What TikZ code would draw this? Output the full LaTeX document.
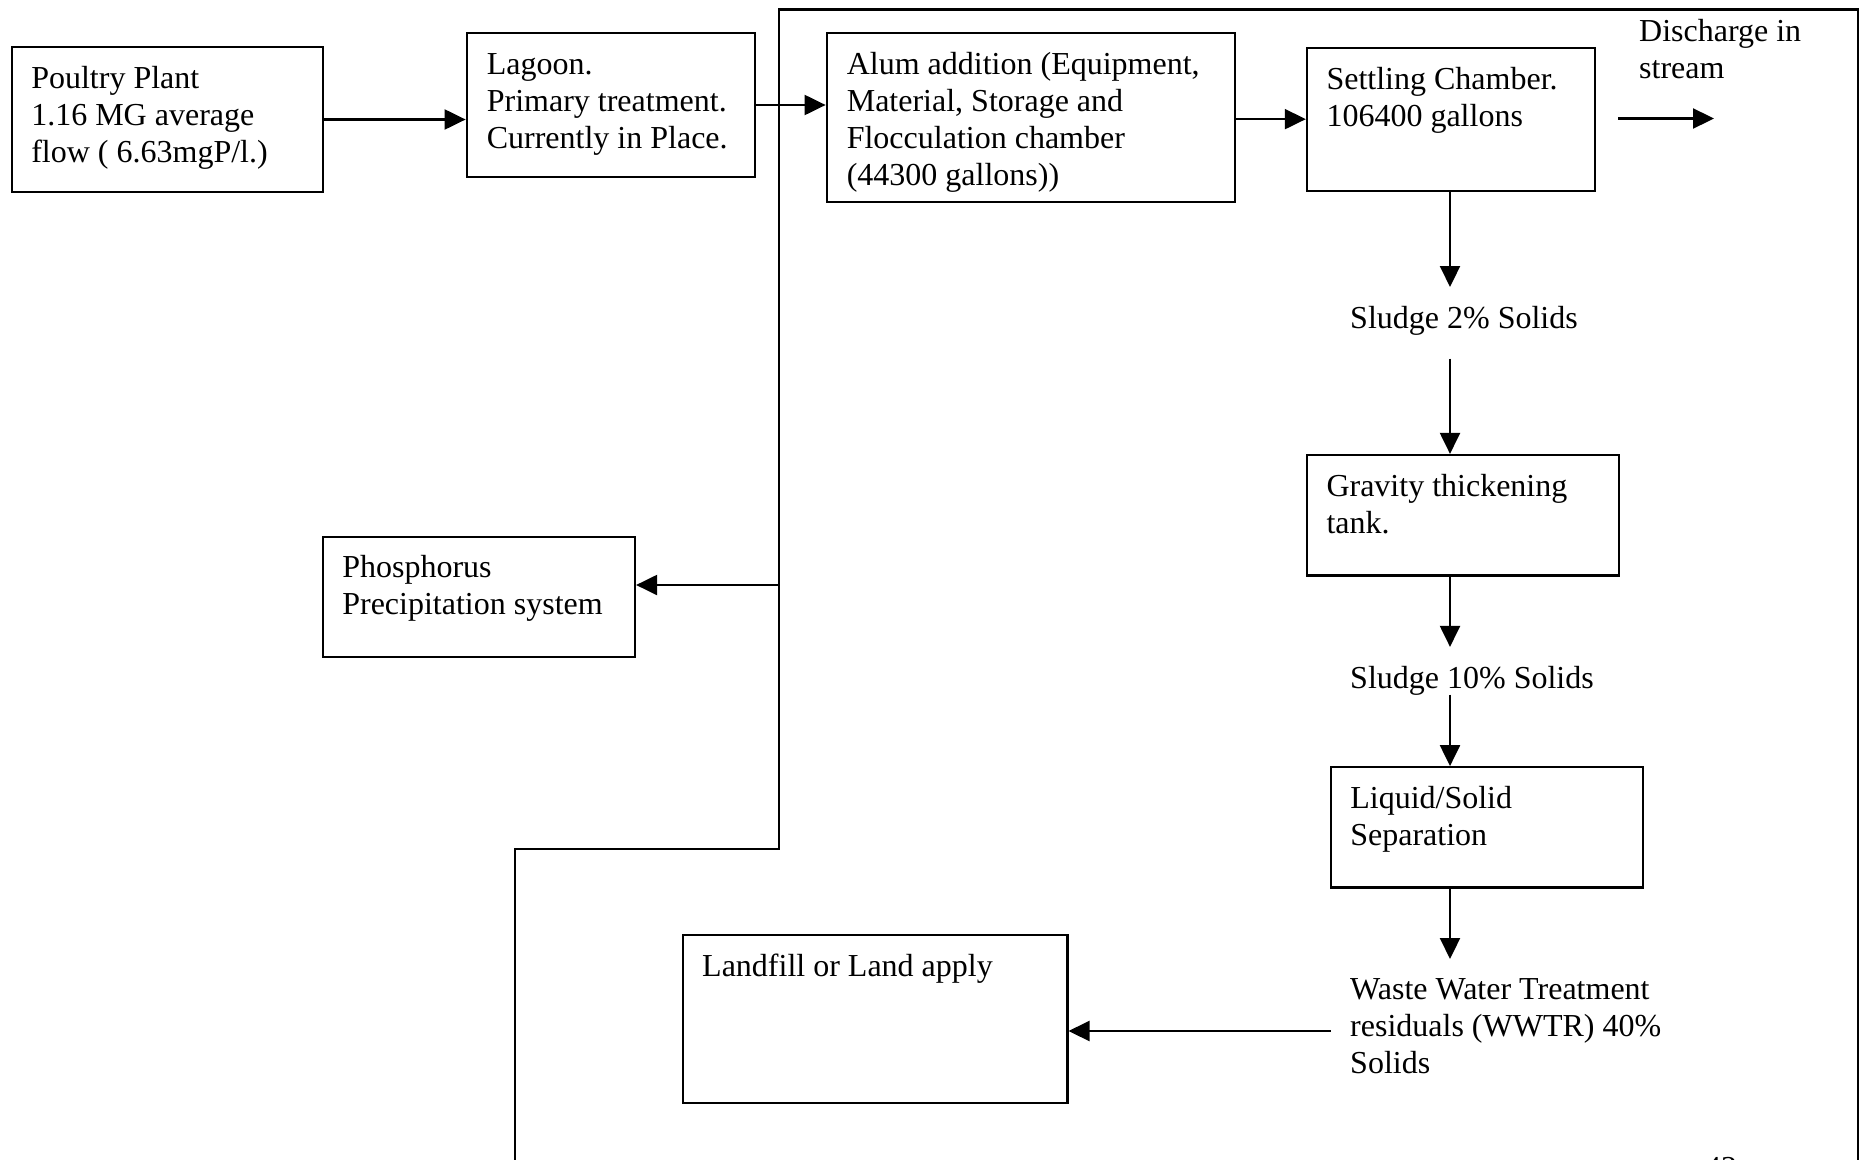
\documentclass[tikz,border=0pt]{standalone}
\usepackage{fontspec}
\setmainfont{Liberation Serif}
\usetikzlibrary{arrows.meta,calc}
\newcommand\tx[1]{\begin{tabular}[t]{@{}l@{}}#1\end{tabular}}
\begin{document}
\begin{tikzpicture}[x=1pt,y=-1pt,
  box/.style={draw=black,line width=2.2pt,inner sep=0pt,rectangle},
  txt/.style={inner sep=0pt,anchor=base west,font=\fontsize{32}{37}\selectfont},
  ln/.style={line width=2.2pt},
  arr/.style={line width=2.2pt,-{Triangle[length=21pt,width=20pt]}}]
\useasboundingbox (0,0) rectangle (1868,1159);
\clip (0,0) rectangle (1868,1159);
% boxes
\node[box,minimum width=311.3pt,minimum height=144.4pt] (poultry) at (167.35,119.5) {};
\node[box,minimum width=288.3pt,minimum height=143.4pt] (lagoon) at (610.85,105) {};
\node[box,minimum width=408.3pt,minimum height=168.4pt] (alum) at (1030.85,117.5) {};
\node[box,minimum width=288.1pt,minimum height=142.9pt] (settling) at (1450.95,119.15) {};
\node[box,minimum width=312.1pt,minimum height=120.4pt] (gravity) at (1462.95,515.2) {};
\node[box,minimum width=312.1pt,minimum height=120.3pt] (liquid) at (1486.75,827.35) {};
\node[box,minimum width=384.8pt,minimum height=168.1pt] (landfill) at (875.0,1019.15) {};
\node[box,minimum width=312.3pt,minimum height=120pt] (phos) at (478.85,596.7) {};
% box texts
\node[txt] (poultry-t) at ($(poultry.north west)+(20.5,42.5)$) {\tx{Poultry Plant\\1.16 MG average\\flow ( 6.63mgP/l.)}};
\node[txt] (lagoon-t) at ($(lagoon.north west)+(21,42)$) {\tx{Lagoon.\\Primary treatment.\\Currently in Place.}};
\node[txt] (alum-t) at ($(alum.north west)+(21,42)$) {\tx{Alum addition (Equipment,\\Material, Storage and\\Flocculation chamber\\(44300 gallons))}};
\node[txt] (settling-t) at ($(settling.north west)+(20.5,42.5)$) {\tx{Settling Chamber.\\106400 gallons}};
\node[txt] (gravity-t) at ($(gravity.north west)+(20.5,42.5)$) {\tx{Gravity thickening\\tank.}};
\node[txt] (liquid-t) at ($(liquid.north west)+(20.5,42.5)$) {\tx{Liquid/Solid\\Separation}};
\node[txt] (landfill-t) at ($(landfill.north west)+(20.5,42)$) {\tx{Landfill or Land apply}};
\node[txt] (phos-t) at ($(phos.north west)+(20.5,41.5)$) {\tx{Phosphorus\\Precipitation system}};
% free texts
\node[txt] (discharge) at (1639,41) {\tx{Discharge in\\stream}};
\node[txt] (sludge2) at (1350,328) {Sludge 2\% Solids};
\node[txt] (sludge10) at (1350,688) {Sludge 10\% Solids};
\node[txt] (wwtr) at (1350,999) {\tx{Waste Water Treatment\\residuals (WWTR) 40\%\\Solids}};
\node[txt] (pagenum) at (1705,1178) {42};
% coordinates
\coordinate (dis-a) at (1618,118.5);
\coordinate (dis-b) at (1714,118.5);
\coordinate (s2-in) at (1450,287);
\coordinate (s2-out) at (1450,358.6);
\coordinate (s10-in) at (1450,646.9);
\coordinate (s10-out) at (1450,694.5);
\coordinate (w-in) at (1450,959);
\coordinate (w-out) at (1330.7,1031);
\coordinate (ph-a) at (779.1,585);
\coordinate (f1) at (514.6,1165);
\coordinate (f2) at (514.6,848.6);
\coordinate (f3) at (779.1,848.6);
\coordinate (f4) at (779.1,9.5);
\coordinate (f5) at (1857.7,9.5);
\coordinate (f6) at (1857.7,1165);
% frame line
\draw[ln] (f1) -- (f2) -- (f3) -- (f4) -- (f5) -- (f6);
% connectors
\draw[arr] (poultry.east) -- (poultry.east -| lagoon.west);
\draw[arr] (lagoon.east) -- (lagoon.east -| alum.west);
\draw[arr] (settling.west -| alum.east) -- (settling.west);
\draw[arr] (dis-a) -- (dis-b);
\draw[arr] (s2-in |- settling.south) -- (s2-in);
\draw[arr] (s2-out) -- (s2-out |- gravity.north);
\draw[arr] (s10-in |- gravity.south) -- (s10-in);
\draw[arr] (s10-out) -- (s10-out |- liquid.north);
\draw[arr] (w-in |- liquid.south) -- (w-in);
\draw[arr] (w-out) -- (w-out -| landfill.east);
\draw[arr] (ph-a) -- (ph-a -| phos.east);
\end{tikzpicture}
\end{document}
